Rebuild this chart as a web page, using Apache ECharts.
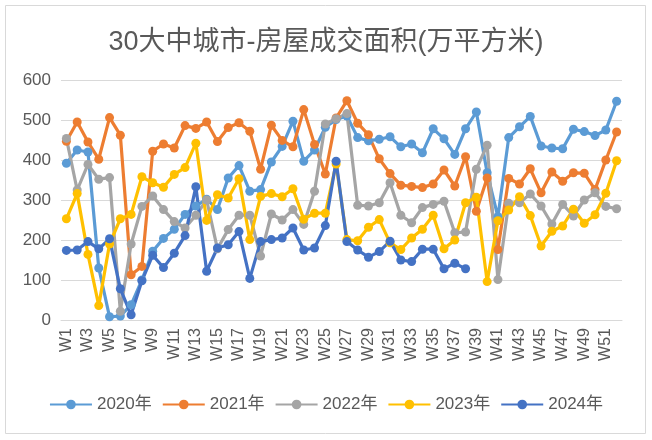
<!DOCTYPE html>
<html>
<head>
<meta charset="utf-8">
<script src="https://cdn.jsdelivr.net/npm/echarts@6/dist/echarts.min.js"></script>
<style>
html,body{margin:0;padding:0;background:#fff;}
#c{width:652px;height:440px;}
</style>
</head>
<body>
<div id="c"></div>
<script>
var weeks = ['W1','W2','W3','W4','W5','W6','W7','W8','W9','W10','W11','W12','W13','W14','W15','W16','W17','W18','W19','W20','W21','W22','W23','W24','W25','W26','W27','W28','W29','W30','W31','W32','W33','W34','W35','W36','W37','W38','W39','W40','W41','W42','W43','W44','W45','W46','W47','W48','W49','W50','W51','W52'];
var y2020 = [392,425,420,130,8,10,38,100,172,204,227,264,285,302,276,355,386,322,326,395,434,497,397,425,482,501,510,456,448,452,458,433,440,418,478,453,414,478,520,368,258,456,483,509,435,430,428,477,471,461,475,547];
var y2021 = [447,495,445,402,506,462,113,134,422,440,430,486,479,495,446,481,493,472,377,487,449,433,526,439,365,505,548,492,463,403,366,337,334,331,340,375,335,408,272,355,176,354,340,378,318,370,347,368,367,326,400,470];
var y2022 = [454,325,389,352,356,22,190,284,310,276,246,230,262,300,178,226,262,262,160,265,250,276,239,322,490,503,516,287,285,293,343,262,243,281,289,297,218,220,377,437,101,292,293,315,285,240,289,260,300,318,284,278];
var y2023 = [253,316,164,36,190,253,264,358,343,332,364,381,442,249,313,305,353,201,309,316,308,328,252,267,267,390,201,198,232,251,193,176,205,227,262,178,200,293,307,96,248,275,308,261,185,222,235,277,242,263,317,398];
var y2024 = [174,175,196,178,203,78,13,98,162,131,167,211,333,122,180,188,221,104,196,201,205,230,175,180,236,397,196,175,157,171,197,150,146,177,177,128,142,128];
var seriesNames = ['2020年','2021年','2022年','2023年','2024年'];
var seriesColors = ['#5B9BD5','#ED7D31','#A5A5A5','#FFC000','#4472C4'];
var seriesData = [y2020, y2021, y2022, y2023, y2024];
var titleText = '30大中城市-房屋成交面积(万平方米)';

var FONT = '"Liberation Sans", "Noto Sans CJK SC", sans-serif';
var chart = echarts.init(document.getElementById('c'), null, {renderer:'canvas'});
var series = seriesNames.map(function(n,i){
  return {
    name:n, type:'line', data:seriesData[i],
    symbol:'circle', symbolSize:9, showSymbol:true, showAllSymbol:true,
    lineStyle:{width:3.2,color:seriesColors[i]},
    itemStyle:{color:seriesColors[i]},
    emphasis:{disabled:true},
    animation:false
  };
});
chart.setOption({
  animation:false,
  backgroundColor:'#fff',
  graphic:[{type:'rect',shape:{x:5.5,y:5.5,width:640,height:428},style:{fill:'none',stroke:'#d9d9d9',lineWidth:1},silent:true}],
  title:{text:titleText,left:'center',top:24,textStyle:{fontFamily:FONT,fontSize:27,fontWeight:'normal',color:'#595959'}},
  grid:{left:61,right:30,top:80,bottom:120,containLabel:false},
  legend:{bottom:22,left:'center',itemWidth:42,itemHeight:12,itemGap:10,
    textStyle:{fontFamily:FONT,fontSize:17,color:'#595959'},data:seriesNames},
  xAxis:{type:'category',data:weeks,boundaryGap:true,
    axisLine:{lineStyle:{color:'#d9d9d9',width:1}},axisTick:{show:false},
    axisLabel:{interval:1,rotate:90,fontFamily:FONT,fontSize:16,color:'#595959',margin:8}},
  yAxis:{type:'value',min:0,max:600,interval:100,
    axisLine:{show:false},axisTick:{show:false},
    splitLine:{lineStyle:{color:'#d9d9d9',width:1}},
    axisLabel:{fontFamily:FONT,fontSize:17,color:'#595959',margin:10}},
  series:series
});
</script>
</body>
</html>
